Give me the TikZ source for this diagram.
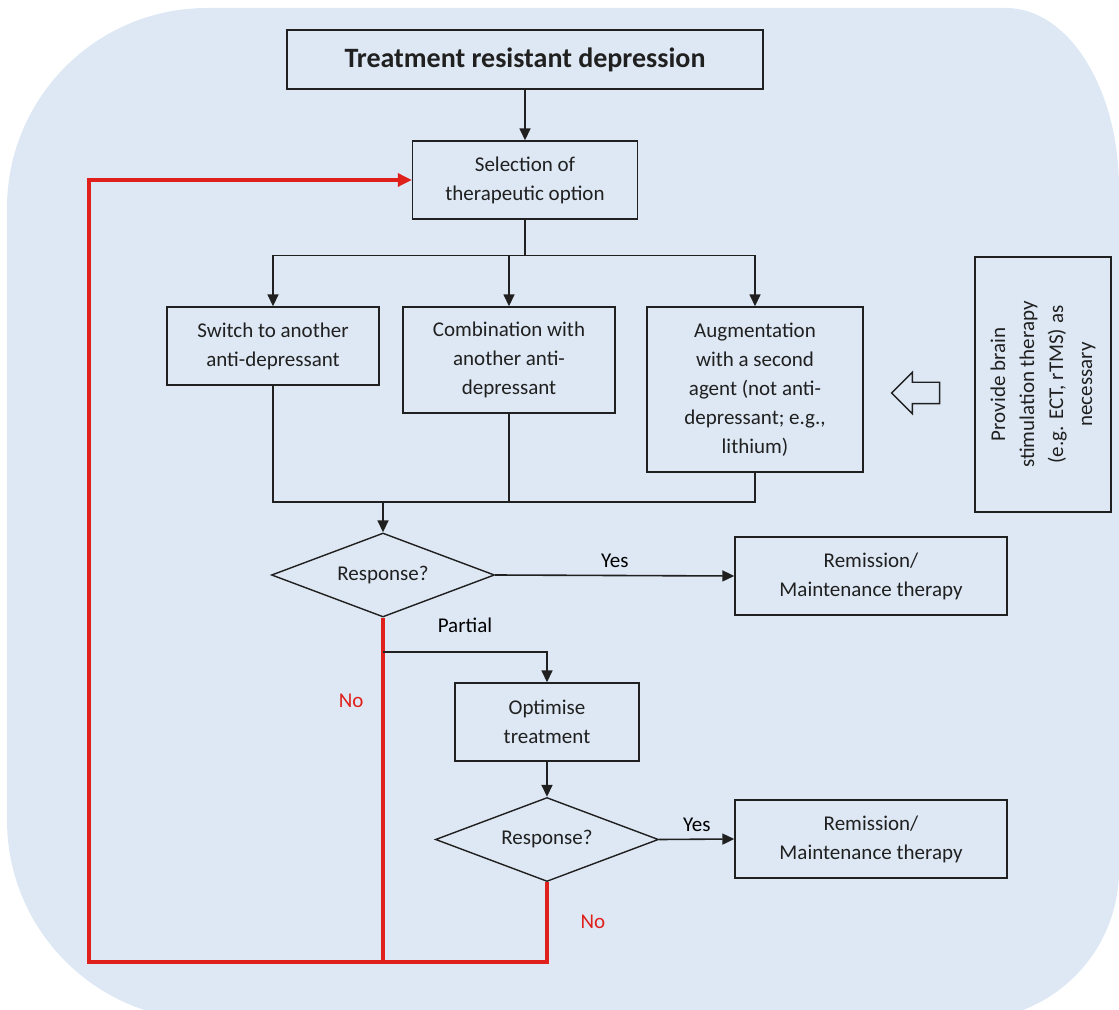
\documentclass[tikz,border=0pt]{standalone}
\usepackage{fontspec}
\setmainfont{Carlito}
\usetikzlibrary{shapes.geometric,shapes.arrows,arrows.meta}
\definecolor{bgblue}{HTML}{DDE8F4}
\definecolor{loopred}{HTML}{E0201B}
\definecolor{ink}{HTML}{202020}
\tikzset{
  box/.style={draw=ink,line width=.7pt,align=center,inner sep=2pt,text=ink},
  test/.style={diamond,draw=ink,line width=.7pt,inner sep=0pt,text=ink,
    shape aspect=2.65,minimum width=111.5pt,minimum height=42pt},
  wire/.style={draw=ink,line width=.8pt},
  flow/.style={wire,-{Triangle[length=6pt,width=5.5pt]}},
  back/.style={draw=loopred,line width=1.6pt},
  nolabel/.style={text=loopred,inner sep=0pt}
}

\begin{document}
\begin{tikzpicture}[x=0.5pt,y=-0.5pt,font=\fontsize{10.5}{14.5}\selectfont]
  \clip (0,0) rectangle (1119,1010);
  \fill[bgblue] (7,208) arc[start angle=180,end angle=270,radius=200] -- (1006,8)
    arc[start angle=270,end angle=360,x radius=113,y radius=180] -- (1119,870)
    arc[start angle=0,end angle=90,radius=150] -- (207,1020)
    arc[start angle=90,end angle=180,radius=200] -- cycle;

  \node[box,minimum width=238pt,minimum height=29.5pt,font=\fontsize{14}{17}\selectfont\bfseries] (TRD) at (525,59.5) {Treatment resistant depression};
  \node[box,minimum width=112.5pt,minimum height=39pt] (Sel) at (525,180) {Selection of\\therapeutic option};
  \node[box,minimum width=106pt,minimum height=39pt] (Sw) at (273,346) {Switch to another\\anti-depressant};
  \node[box,minimum width=106pt,minimum height=53pt] (Co) at (509,360) {Combination with\\another anti-\\depressant};
  \node[box,minimum width=108pt,minimum height=82.5pt] (Au) at (755,389.5) {Augmentation\\with a second\\agent (not anti-\\depressant; e.g.,\\lithium)};
  \node[box,rotate=90,minimum width=127.5pt,minimum height=68pt] (Br) at (1043,384.5) {Provide brain\\stimulation therapy\\(e.g. ECT, rTMS) as\\necessary};
  \node[single arrow,shape border rotate=180,draw=ink,line width=.7pt,minimum height=24pt,inner sep=5pt,single arrow head extend=5pt] (Ar) at (921,393) {};
  \node[test] (R1) at (383,575) {Response?};
  \node[box,minimum width=136pt,minimum height=39pt] (M1) at (871,576) {Remission/\\Maintenance therapy};
  \node[box,minimum width=92pt,minimum height=39pt] (Op) at (547,722) {Optimise\\treatment};
  \node[test] (R2) at (547,839.5) {Response?};
  \node[box,minimum width=136pt,minimum height=39pt] (M2) at (871,839) {Remission/\\Maintenance therapy};
  \coordinate (join) at (383,502);
  \coordinate (part) at (383,652);
  \coordinate (loop) at (89,962);

  \draw[flow] (TRD) -- (Sel);
  \draw[wire] (Sel.south) -- ++(0,36) coordinate (fork);
  \draw[flow] (fork) -| (Sw.north);
  \draw[flow] (fork) -| (Co.north);
  \draw[flow] (fork) -| (Au.north);
  \draw[wire] (Sw.south) |- (join);
  \draw[wire] (Co.south) |- (join);
  \draw[wire] (Au.south) |- (join);
  \draw[flow] (join) -- (R1.north);
  \draw[flow] (R1.east) -- node[above]{Yes} (M1.west);
  \draw[back] (R1.south) -- node[nolabel,pos=.24,left,xshift=-9pt]{No} (R1.south |- loop);
  \draw[flow] (part) -| node[pos=.25,above,yshift=6pt]{Partial} (Op.north);
  \draw[flow] (Op) -- (R2);
  \draw[flow] (R2.east) -- node[above]{Yes} (M2.west);
  \draw[back,-{Triangle[length=7pt,width=6.5pt]}] (R2.south) -- node[nolabel,right,xshift=16pt]{No} (R2.south |- loop) -- (loop) |- (Sel.west);
\end{tikzpicture}
\end{document}
